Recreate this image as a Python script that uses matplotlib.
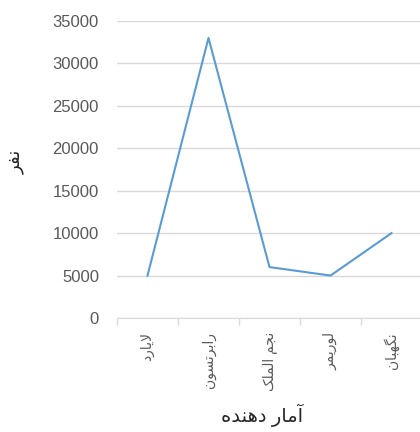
import matplotlib
matplotlib.use("Agg")
import matplotlib.pyplot as plt

# داده‌ها
sources = ["لایارد", "رابرتسون", "نجم الملک", "لوریمر", "نگهبان"]
people = [5000, 33000, 6000, 5000, 10000]
y_ticks = [0, 5000, 10000, 15000, 20000, 25000, 30000, 35000]
x_title = "آمار دهنده"
y_title = "نفر"

# شکل‌دهی ساده حروف فارسی (matplotlib خودش حروف را به هم وصل نمی‌کند)
FORMS = {
    "ا": ("\uFE8D", "\uFE8E", None, None),
    "آ": ("\uFE81", "\uFE82", None, None),
    "ب": ("\uFE8F", "\uFE90", "\uFE91", "\uFE92"),
    "ت": ("\uFE95", "\uFE96", "\uFE97", "\uFE98"),
    "ج": ("\uFE9D", "\uFE9E", "\uFE9F", "\uFEA0"),
    "د": ("\uFEA9", "\uFEAA", None, None),
    "ر": ("\uFEAD", "\uFEAE", None, None),
    "س": ("\uFEB1", "\uFEB2", "\uFEB3", "\uFEB4"),
    "ف": ("\uFED1", "\uFED2", "\uFED3", "\uFED4"),
    "ل": ("\uFEDD", "\uFEDE", "\uFEDF", "\uFEE0"),
    "م": ("\uFEE1", "\uFEE2", "\uFEE3", "\uFEE4"),
    "ن": ("\uFEE5", "\uFEE6", "\uFEE7", "\uFEE8"),
    "ه": ("\uFEE9", "\uFEEA", "\uFEEB", "\uFEEC"),
    "و": ("\uFEED", "\uFEEE", None, None),
    "ی": ("\uFBFC", "\uFBFD", "\uFBFE", "\uFBFF"),
    "ک": ("\uFB8E", "\uFB8F", "\uFB90", "\uFB91"),
    "گ": ("\uFB92", "\uFB93", "\uFB94", "\uFB95"),
}


def joins_next(ch):
    return ch in FORMS and FORMS[ch][2] is not None


def shape(text):
    out = []
    i = 0
    n = len(text)
    while i < n:
        ch = text[i]
        prev_joins = i > 0 and joins_next(text[i - 1])
        if ch == "ل" and i + 1 < n and text[i + 1] == "ا":
            out.append("\uFEFC" if prev_joins else "\uFEFB")
            i += 2
            continue
        if ch not in FORMS:
            out.append(ch)
            i += 1
            continue
        nxt = text[i + 1] if i + 1 < n else ""
        next_ok = joins_next(ch) and nxt in FORMS
        isol, fin, ini, med = FORMS[ch]
        if prev_joins and next_ok:
            out.append(med)
        elif prev_joins:
            out.append(fin)
        elif next_ok:
            out.append(ini)
        else:
            out.append(isol)
        i += 1
    return "".join(reversed(out))


plt.rcParams["font.family"] = ["Liberation Sans", "DejaVu Sans"]

fig = plt.figure(figsize=(4.2, 4.32), dpi=100)
ax = fig.add_axes([117 / 420, 114 / 432, 305 / 420, 297 / 432])

x = list(range(len(sources)))
ax.plot(x, people, color="#5B9BD5", linewidth=1.5)

ax.set_xlim(-0.5, len(sources) - 0.5)
ax.set_ylim(0, 35000)
ax.set_yticks(y_ticks)
ax.set_yticklabels([str(v) for v in y_ticks])
ax.yaxis.grid(True, color="#d9d9d9", linewidth=1)
ax.set_axisbelow(True)

ax.set_xticks(x)
ax.set_xticklabels([shape(s) for s in sources], rotation=90, va="top")
ax.set_xticks([v - 0.5 for v in range(len(sources) + 1)], minor=True)
ax.tick_params(axis="x", which="major", length=0, pad=10, labelsize=10, labelcolor="#595959")
ax.tick_params(axis="x", which="minor", length=5, color="#d9d9d9", width=1)
ax.tick_params(axis="y", length=0, pad=13, labelsize=12, labelcolor="#595959")

for side in ["top", "right", "left"]:
    ax.spines[side].set_visible(False)
ax.spines["bottom"].set_color("#d9d9d9")

fig.text(262 / 420, 1 - 415 / 432, shape(x_title), ha="center", va="center",
         fontsize=14, color="#262626")
fig.text(16 / 420, 1 - 162 / 432, shape(y_title), ha="center", va="center",
         fontsize=13, color="#262626", rotation=90)

fig.savefig("out.png", dpi=100)
